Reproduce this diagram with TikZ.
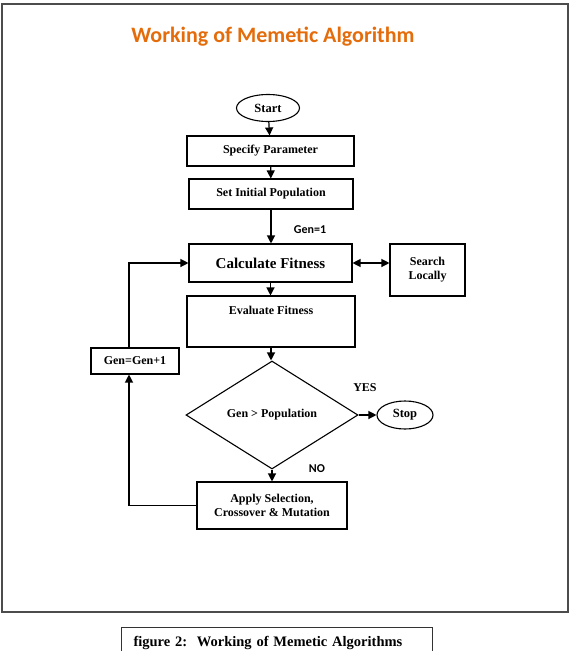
\documentclass[tikz,border=0pt]{standalone}
\usepackage{fontspec}
\setmainfont{Liberation Serif}
\newfontfamily\calfont{Carlito}
\usetikzlibrary{shapes.geometric,arrows.meta}
\definecolor{titleorange}{HTML}{E46C0A}
\tikzset{
  box/.style={draw, line width=1.1pt, rectangle, inner sep=0pt, align=center, font=\bfseries\fontsize{12}{14}\selectfont},
  oval/.style={draw, line width=1.1pt, ellipse, inner sep=0pt, font=\bfseries\fontsize{12.5}{14}\selectfont},
  arr/.style={line width=1.2pt, -{Triangle[length=8pt,width=8pt]}},
  darr/.style={line width=1.2pt, {Triangle[length=8pt,width=8pt]}-{Triangle[length=8pt,width=8pt]}},
  lbl/.style={inner sep=0pt, font=\calfont\bfseries\fontsize{12}{14}\selectfont}
}
\begin{document}
\begin{tikzpicture}[x=1pt,y=-1pt]
\useasboundingbox (0,0) rectangle (573,651);
\draw[line width=1.2pt, black!70] (2,4) rectangle (568,612);
\node[inner sep=0pt, text=titleorange, font=\calfont\bfseries\fontsize{22}{26}\selectfont] (title) at (273,37) {Working of Memetic Algorithm};

\node[oval, minimum width=63pt, minimum height=27pt] (start) at (268,108) {Start};
\node[box, minimum width=167pt, minimum height=30pt] (spec) at (270.5,151) {Specify Parameter};
\node[box, minimum width=164pt, minimum height=30pt] (init) at (271,194) {Set Initial Population};
\node[box, minimum width=163pt, minimum height=38pt, font=\bfseries\fontsize{15}{17}\selectfont] (calc) at (270.5,263) {Calculate Fitness};
\node[box, minimum width=75pt, minimum height=52pt] (search) at (427.5,270) {Search\\Locally};
\node[box, minimum width=168pt, inner ysep=3pt, text height=15pt, text depth=30pt] (eval) at (271,321.5) {Evaluate Fitness};
\node[draw, line width=1.1pt, diamond, inner sep=0pt, minimum width=172pt, minimum height=108pt, font=\bfseries\fontsize{12}{14}\selectfont] (dec) at (272,415) {Gen > Population};
\node[oval, minimum width=56pt, minimum height=28pt] (stop) at (405,415) {Stop};
\node[box, minimum width=150pt, minimum height=47pt] (apply) at (272,505.5) {Apply Selection,\\Crossover \& Mutation};
\node[box, minimum width=88pt, minimum height=26pt] (gen) at (135,361) {Gen=Gen+1};

\node[lbl] (g1) at (310,230) {Gen=1};
\node[inner sep=0pt, font=\bfseries\fontsize{12}{14}\selectfont] (yes) at (365,388) {YES};
\node[lbl] (no) at (317,469) {NO};

\draw[arr] (start) -- (spec);
\draw[arr] (spec) -- (init);
\draw[arr] (init.south) -- (init.south |- calc.north);
\draw[darr] (calc.east) -- (calc.east -| search.west);
\draw[arr] (calc.south) -- (calc.south |- eval.north);
\draw[arr] (eval.south) -- (eval.south |- dec.north);
\draw[arr] (dec.east) -- (stop.west);
\draw[arr] (dec.south) -- (dec.south |- apply.north);
\draw[arr] (apply.west) -| ([xshift=-6pt]gen.south);
\draw[arr] ([xshift=-6pt]gen.north) |- (calc.west);

\node[draw, line width=1.1pt, black!80, text=black, anchor=north west, minimum width=311pt, minimum height=30pt, inner xsep=12pt, text width=287pt, align=left, font=\bfseries\fontsize{14.5}{16}\selectfont] (cap) at (121,627) {figure 2:\ \ Working of Memetic Algorithms};
\end{tikzpicture}
\end{document}
